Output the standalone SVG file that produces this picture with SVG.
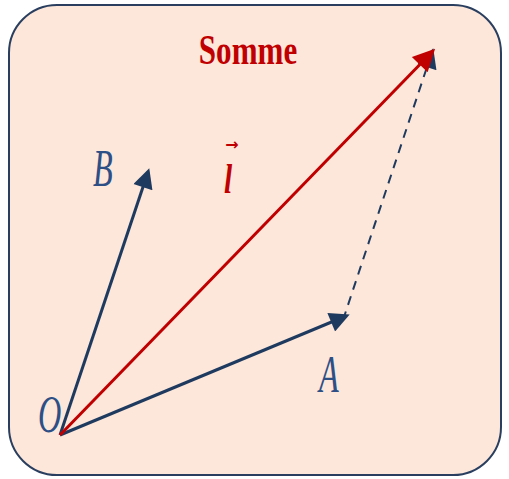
<svg xmlns="http://www.w3.org/2000/svg" width="509" height="479" viewBox="0 0 509 479">
<defs>
<style>
.lbl{font-family:"Liberation Serif",serif;font-style:italic;font-size:52px;fill:#2d4f86}
.nv{stroke:#1f3a5f;stroke-width:3;fill:none}
</style>
<marker id="ar" viewBox="0 0 10 10" refX="8" refY="5" markerWidth="26" markerHeight="22" markerUnits="userSpaceOnUse" orient="auto">
<path d="M0,0 L10,5 L0,10 z" fill="#c00000"/>
</marker>
<marker id="ab" viewBox="0 0 10 10" refX="8" refY="5" markerWidth="24" markerHeight="20" markerUnits="userSpaceOnUse" orient="auto">
<path d="M0,0 L10,5 L0,10 z" fill="#1f3a5f"/>
</marker>
</defs>
<rect x="9" y="5" width="492" height="470" rx="48" fill="#fde7da" stroke="#2a3f5f" stroke-width="2"/>
<text transform="translate(248 64) scale(0.74 1)" text-anchor="middle" font-family="Liberation Serif,serif" font-weight="bold" font-size="42" fill="#c00000">Somme</text>
<g id="connectors">
<line x1="343" y1="320" x2="432" y2="52" stroke="#1f3a5f" stroke-width="2" stroke-dasharray="9 7" marker-end="url(#ab)"/>
<line x1="60" y1="435" x2="148" y2="172" class="nv" marker-end="url(#ab)"/>
<line x1="60" y1="435" x2="346" y2="316" class="nv" marker-end="url(#ab)"/>
<line x1="60" y1="435" x2="432" y2="52" stroke="#c00000" stroke-width="3" marker-end="url(#ar)"/>
</g>
<g id="node-O"><text class="lbl" transform="translate(38 432) scale(0.62 1)">O</text></g>
<g id="node-B"><text class="lbl" transform="translate(93 186) scale(0.62 1)">B</text></g>
<g id="node-A"><text class="lbl" transform="translate(319 392) scale(0.62 1)">A</text></g>
<g id="node-sum">
<text transform="translate(228 193) scale(0.7 1)" text-anchor="middle" font-family="Liberation Serif,serif" font-style="italic" font-weight="bold" font-size="42" fill="#c00000">l</text>
<text x="232" y="150" text-anchor="middle" font-family="DejaVu Sans,sans-serif" font-weight="bold" font-size="16" fill="#c00000">→</text>
</g>
</svg>
